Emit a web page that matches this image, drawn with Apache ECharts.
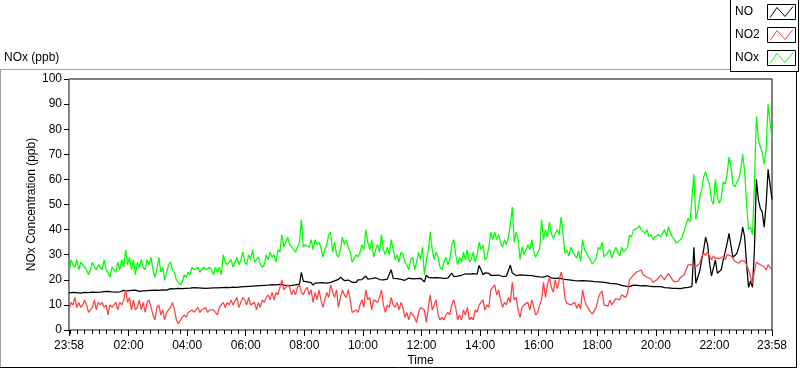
<!DOCTYPE html>
<html><head><meta charset="utf-8">
<script src="https://cdn.jsdelivr.net/npm/echarts@6/dist/echarts.min.js"></script>
<style>html,body{margin:0;padding:0;background:#fff}#c{width:800px;height:369px}</style>
</head><body><div id="c"></div>
<script>
// minutes after 23:58 (start of the record); one sample every 4 minutes
const STEP_MIN = 4;
const START_CLOCK_MIN = 23 * 60 + 58;

const NO = [
14.8,14.6,15.0,14.5,14.9,14.3,14.7,14.4,15.0,14.6,14.9,14.5,15.1,14.8,15.0,
14.7,15.1,14.8,15.3,15.0,15.4,14.9,15.2,15.5,15.1,15.6,15.2,15.4,15.8,15.3,
15.6,15.3,15.8,15.5,15.9,15.6,15.4,15.9,15.6,16.0,15.7,16.1,15.8,16.0,15.9,
16.1,15.8,16.2,16.0,16.3,15.9,16.2,16.5,16.1,16.4,16.2,16.6,16.3,16.5,16.4,
16.6,16.3,16.7,16.5,16.9,16.6,16.8,16.4,16.7,17.0,16.6,16.9,16.7,17.1,16.8,
17.0,16.8,17.2,16.9,17.3,17.0,17.2,16.9,17.4,17.1,17.3,17.0,17.5,17.2,17.6,
17.3,17.7,17.4,17.8,17.5,17.9,17.6,18.0,17.7,18.2,17.8,18.3,17.9,18.4,18.1,
18.5,18.0,18.6,18.2,18.5,17.9,18.3,17.7,18.1,17.8,18.4,18.0,18.6,18.3,23.0,
19.5,18.8,19.2,18.6,18.9,17.9,18.7,19.1,18.8,19.3,18.9,19.2,18.7,19.4,19.0,
19.3,19.6,19.0,20.2,21.0,20.6,19.7,19.5,19.9,19.3,19.0,19.2,19.0,20.0,20.4,
20.1,20.7,21.5,20.3,20.0,20.5,20.2,20.8,20.4,20.1,20.6,20.0,20.5,20.3,21.0,
24.0,20.6,20.0,20.5,20.8,20.2,20.6,19.8,20.3,20.7,20.0,20.4,19.9,20.5,20.3,
20.6,20.1,19.2,21.8,21.0,20.5,20.8,20.3,20.9,20.5,20.8,21.0,20.6,21.1,20.7,
21.2,22.7,21.3,21.0,21.5,21.2,21.8,22.0,22.4,21.8,22.3,22.0,22.5,21.9,22.3,
25.7,24.0,22.0,22.8,23.2,22.6,21.8,21.4,21.8,21.5,21.9,21.6,21.3,21.8,21.5,
22.0,25.8,22.7,22.0,21.7,21.5,22.0,21.6,21.9,21.4,21.8,21.5,21.7,21.3,21.4,
21.0,21.2,20.8,21.1,20.9,21.6,21.2,20.8,20.9,20.6,20.8,20.7,20.5,20.3,20.0,
20.1,19.8,19.9,20.2,19.7,19.9,19.6,19.8,19.7,19.5,19.6,19.3,19.5,19.2,19.3,
19.0,19.2,18.9,19.1,18.7,18.9,18.6,18.6,18.4,18.5,18.2,18.3,18.0,17.8,17.6,
17.5,17.8,17.3,17.7,17.9,17.6,17.8,18.0,17.6,17.9,17.7,17.9,17.5,17.6,17.3,
17.4,17.3,17.1,17.3,17.0,16.9,17.1,16.8,16.9,16.6,16.8,16.6,16.7,16.5,16.8,
16.8,16.9,17.0,17.2,17.3,33.0,18.6,19.0,23.5,28.0,32.0,37.0,34.0,27.0,21.5,
21.2,27.9,22.6,23.0,24.0,27.9,31.0,34.5,38.5,33.5,29.0,28.5,30.5,33.0,36.0,
41.0,37.0,26.0,17.0,19.5,17.0,32.0,60.0,52.0,48.5,47.0,41.0,50.0,64.0,58.0,52.0
];

const NO2 = [
8,11,10,13,9,11,9,10,12,10,7,8,9,12,8,
11,10,11,9,10,6,10,9,10,11,8,11,10,12,16,
11,13,8,12,8,9,12,8,11,7,11,12,9,6,4,
9,10,6,8,4,7,8,9,11,8,4,2.5,3,5,6,
5,7,7,8,7,8,9,7,8,8,9,7,8,8,8,
7,6,9,9,11,9,11,10,12,10,10,13,9,11,13,
12,10,13,10,10,11,8,11,9,12,11,13,14,12,15,
12,15,14,17,20,16,17,18,17,14,16,14,17,18,15,
14,16,17,14,16,11,15,12,16,12,9,12,15,13,18,
15,13,16,9,13,16,14,13,16,12,7,7,8,7,10,
12,9,16,12,13,8,12,12,11,13,16,10,7,10,9,
13,10,9,11,8,11,9,5,7,4,7,7,5,3,7,
9,9,8,3,9,14,8,10,12,6,4,5,4,6,7,
6,10,12,9,4,6,4,8,6,9,4,5,4,8,7,
10,10,12,8,10,9,16,17,18,14,16,12,9,11,10,
13,11,19,12,13,8,5,9,10,10,11,8,12,9,6,
7,10,12,19,13,18,21,17,15,20,16.5,17,23,20,12.6,
10.6,11,10,9.5,11,8.6,10.5,8.3,16,12,9.8,8.6,7.2,6.3,7,
9,12.6,14.6,15.5,10,10.5,9.5,12,10,10.5,12.5,13,12,14,13.3,
13,14.5,20,19.5,21.9,22.6,23.2,23.6,23.9,22,22.3,21,20.5,20.3,19,
18.6,20,20.8,22,21.5,20,21.5,22.6,21.2,20,19.2,18.6,19.5,20.8,21.2,
22,24,25.9,26.6,26,26.6,25.2,24.5,26.5,29.2,30.5,29.7,31,29.5,28,
29.5,28.5,29.2,28.5,28.6,29.2,28,30,30.5,29.5,28.5,27.3,27.8,26.6,27.5,
27,27.5,25.9,23.9,21.2,18.6,23.5,27,26.6,26,26,25.2,23.9,26,26.6,24
];

const NOx = [
22,28,26,25,28,24,27,26,25,24,22,24,27,25,24,
26,25,24,28,24,23,21,25,24,23,27,24,28,25,32,
26,29,24,28,22,27,25,28,25,24,28,26,29,24,21,
24,29,23,25,20,23,26,27,24,23,20,19,18,19,22,
21,23,22,25,24,24,25,23,24,25,24,24,25,24,22,
25,23,25,22,30,27,26,27,28,25,27,29,26,28,31,
27,26,30,28,32,27,28,29,26,25,26,30,28,31,29,
30,27,32,31,38,33,35,37,34,33,32,31,33,35,44,
33,34,34,33,36,32,36,34,35,33,29,32,34,38,39,
31,35,30,29,32,37,34,36,33,31,27,27,30,29,31,
34,32,40,35,32,36,29,32,34,31,38,32,30,33,30,
36,32,28,30,27,31,30,27,26,24,28,29,24,27,31,
28,33,22,28,32,39,32,28,31,29,25,24,27,29,26,
28,34,36,30,26,29,27,31,28,32,27,28,31,27,30,
35,32,34,28,29,33,39,36,39,36,38,35,33,36,34,
37,42,49,35,39,36,28,33,30,32,34,32,36,31,29,
31,32,44,36,40,37,43,38.5,36.5,36,40,38,45,38,30.5,
31.9,29.5,33,31,31,28.6,31.5,27.2,36,32,31,29,27.9,26.3,26.5,
28.5,33,32,35,29,30,29.5,32,28.6,31,33,31,29.5,33,31,
31.5,33,37.8,37,39.8,39.2,40.5,41.5,40,40.5,38.5,40,37.2,38,36,
37,36.5,38,37,38.5,40,37.2,41.2,38.5,37,36,34.5,35.2,35.9,37,
39.5,42,44.5,43,43,62,44,47.5,53,56,61,63,60,58,51.8,
50,60,53,50.5,52.5,59,58,62,69,65,58,57,59,60,64,
70,63,50,40,41,38,58,85,76,73,71,66,72,90,83,76
];

const SERIES_NAMES = ['NO', 'NO2', 'NOx'];
const SERIES_COLORS = ['#000000', '#ff4040', '#00ff00'];
// x tick label positions (minutes after 23:58)
const X_LABEL_VALUES = [0,122,242,362,482,602,722,842,962,1082,1202,1322,1440];
const X_MAX = 1440;
const Y_MIN = 0, Y_MAX = 100, Y_INTERVAL = 10;

const minorTicks = [];
for (let v = 2; v < X_MAX; v += 15) minorTicks.push(v);

function pad(n){ return (n < 10 ? '0' : '') + n; }
function fmtTime(v){
  const t = (START_CLOCK_MIN + Math.round(v)) % 1440;
  return pad(Math.floor(t / 60)) + ':' + pad(t % 60);
}
function toPairs(arr){ return arr.map((v, i) => [i * STEP_MIN, v]); }

const FONT = 'Liberation Sans';
const chart = echarts.init(document.getElementById('c'), null, {renderer: 'canvas'});

const legendGraphics = [];
SERIES_NAMES.forEach((n, i) => {
  const y0 = 4.5 + i * 23;
  legendGraphics.push({type: 'text', left: 735, top: y0 + 1, style: {text: n, fill: '#000', font: '12px "' + FONT + '"'}});
  legendGraphics.push({type: 'rect', shape: {x: 767.5, y: y0, width: 28, height: 15}, style: {fill: '#fff', stroke: '#000', lineWidth: 1}});
  legendGraphics.push({type: 'polyline', shape: {points: [[770, y0 + 13], [777, y0 + 3], [785, y0 + 12], [793, y0 + 2]]}, style: {stroke: SERIES_COLORS[i], lineWidth: 1, fill: null}});
});

chart.setOption({
  animation: false,
  backgroundColor: '#fff',
  textStyle: {fontFamily: FONT},
  grid: {left: 69, top: 79, width: 703, height: 251, containLabel: false, outerBoundsMode: 'none',
         show: true, borderColor: '#000', borderWidth: 1, backgroundColor: 'transparent'},
  xAxis: [{
    type: 'value', min: 0, max: X_MAX, position: 'bottom',
    axisLine: {show: true, lineStyle: {color: '#8a8a8a', width: 1}},
    axisTick: {show: true, customValues: X_LABEL_VALUES, length: 6, lineStyle: {color: '#000'}},
    axisLabel: {customValues: X_LABEL_VALUES, formatter: fmtTime, color: '#000', fontSize: 12, margin: 10, fontFamily: FONT, showMinLabel: true, showMaxLabel: true, hideOverlap: false},
    splitLine: {show: false},
    name: 'Time', nameLocation: 'middle', nameGap: 25, nameMoveOverlap: false,
    nameTextStyle: {color: '#000', fontSize: 12, fontFamily: FONT}
  }, {
    type: 'value', min: 0, max: X_MAX, position: 'bottom',
    axisLine: {show: false},
    axisTick: {show: true, customValues: minorTicks, length: 4, lineStyle: {color: '#000'}},
    axisLabel: {show: false},
    splitLine: {show: false}
  }],
  yAxis: [{
    type: 'value', min: Y_MIN, max: Y_MAX, interval: Y_INTERVAL, position: 'left',
    axisLine: {show: true, lineStyle: {color: '#000', width: 1}},
    axisTick: {show: true, length: 5, lineStyle: {color: '#000'}},
    axisLabel: {color: '#000', fontSize: 12, margin: 7, fontFamily: FONT},
    splitLine: {show: false},
    name: 'NOx Concentration (ppb)', nameLocation: 'middle', nameGap: 31, nameRotate: 90, nameMoveOverlap: false,
    nameTextStyle: {color: '#000', fontSize: 12, fontFamily: FONT}
  }, {
    type: 'value', min: Y_MIN, max: Y_MAX, interval: Y_INTERVAL, position: 'right',
    axisLine: {show: true, lineStyle: {color: '#8a8a8a', width: 1}},
    axisTick: {show: false}, axisLabel: {show: false}, splitLine: {show: false}
  }],
  series: [NO, NO2, NOx].map((arr, i) => ({
    name: SERIES_NAMES[i], type: 'line', data: toPairs(arr), xAxisIndex: 0, yAxisIndex: 0,
    showSymbol: false, symbol: 'none', clip: true,
    lineStyle: {color: SERIES_COLORS[i], width: 1.25}, itemStyle: {color: SERIES_COLORS[i]},
    emphasis: {disabled: true}, z: 2 + i
  })),
  graphic: [
    {type: 'polyline', shape: {points: [[0, 69.5], [730, 69.5]]}, style: {stroke: '#a0a0a0', lineWidth: 1}},
    {type: 'polyline', shape: {points: [[0.5, 69.5], [0.5, 367.5]]}, style: {stroke: '#a0a0a0', lineWidth: 1}},
    {type: 'polyline', shape: {points: [[0, 367.5], [797, 367.5]]}, style: {stroke: '#000', lineWidth: 1}},
    {type: 'polyline', shape: {points: [[796.5, 71.5], [796.5, 367.5]]}, style: {stroke: '#000', lineWidth: 1}},
    {type: 'polyline', shape: {points: [[730.5, 0], [730.5, 71.5], [799, 71.5]]}, style: {stroke: '#000', lineWidth: 1, fill: null}},
    {type: 'polyline', shape: {points: [[798.5, 0], [798.5, 71.5]]}, style: {stroke: '#000', lineWidth: 1}},
    {type: 'text', left: 4, top: 52, style: {text: 'NOx (ppb)', fill: '#000', font: '12px "' + FONT + '"'}}
  ].concat(legendGraphics)
});
</script>
</body></html>
